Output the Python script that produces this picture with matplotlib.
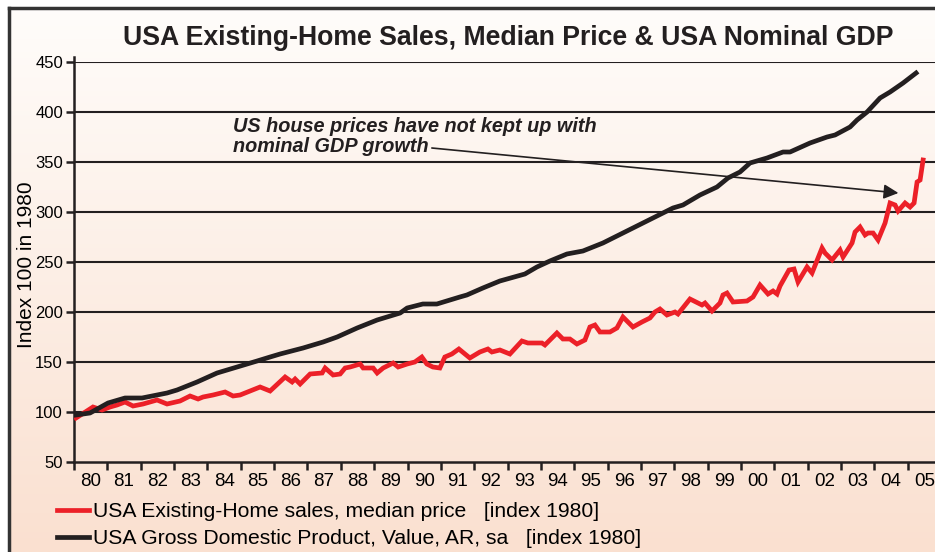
import numpy as np
import matplotlib
matplotlib.use("Agg")
import matplotlib.pyplot as plt
from matplotlib.lines import Line2D

# ---------------- data ----------------
gdp_t = [1980.06, 1980.48, 1981.02, 1981.53, 1982.04, 1982.79, 1983.09, 1983.69,
         1984.29, 1984.89, 1985.49, 1985.88, 1986.18, 1986.87, 1987.47, 1987.89,
         1988.49, 1989.09, 1989.78, 1989.99, 1990.46, 1990.88, 1991.57, 1991.78,
         1992.26, 1992.77, 1993.52, 1993.88, 1994.27, 1994.78, 1995.26, 1995.86,
         1996.28, 1996.76, 1997.30, 1997.96, 1998.26, 1998.77, 1999.28, 1999.61,
         1999.97, 2000.27, 2000.78, 2001.26, 2001.47, 2002.07, 2002.58, 2002.82,
         2003.27, 2003.48, 2003.78, 2004.17, 2004.47, 2004.86, 2005.25]
gdp_v = [97, 99, 109, 114, 114, 119, 122, 130,
         139, 145, 151, 155, 158, 164, 170, 175,
         184, 192, 199, 204, 208, 208, 215, 217,
         224, 231, 238, 245, 251, 258, 261, 269,
         276, 284, 293, 304, 307, 317, 325, 334,
         340, 349, 354, 360, 360, 369, 375, 377,
         385, 392, 400, 414, 420, 429, 439]

price_t = [1980.06, 1980.57, 1980.84, 1981.08, 1981.29, 1981.53, 1981.77, 1982.07,
           1982.49, 1982.79, 1983.18, 1983.48, 1983.72, 1983.87, 1984.17, 1984.53,
           1984.77, 1984.98, 1985.28, 1985.58, 1985.88, 1986.33, 1986.54, 1986.63,
           1986.78, 1987.08, 1987.44, 1987.53, 1987.77, 1987.98, 1988.13, 1988.28,
           1988.58, 1988.67, 1988.97, 1989.09, 1989.27, 1989.57, 1989.72, 1989.99,
           1990.22, 1990.43, 1990.58, 1990.76, 1990.97, 1991.12, 1991.33, 1991.54,
           1991.87, 1992.17, 1992.41, 1992.53, 1992.77, 1993.07, 1993.43, 1993.61,
           1994.03, 1994.12, 1994.48, 1994.66, 1994.87, 1995.08, 1995.32, 1995.47,
           1995.62, 1995.77, 1996.07, 1996.28, 1996.46, 1996.61, 1996.76, 1997.03,
           1997.27, 1997.42, 1997.57, 1997.78, 1998.02, 1998.11, 1998.47, 1998.83,
           1998.92, 1999.13, 1999.37, 1999.46, 1999.58, 1999.76, 2000.18, 2000.36,
           2000.57, 2000.81, 2000.96, 2001.08, 2001.17, 2001.44, 2001.59, 2001.71,
           2001.98, 2002.13, 2002.43, 2002.52, 2002.73, 2002.97, 2003.06, 2003.33,
           2003.42, 2003.57, 2003.72, 2003.81, 2003.96, 2004.11, 2004.32, 2004.47,
           2004.62, 2004.71, 2004.92, 2005.07, 2005.19, 2005.28, 2005.37, 2005.46]
price_v = [94, 105, 102, 105, 107, 110, 106, 108,
           112, 108, 111, 116, 113, 115, 117, 120,
           116, 117, 121, 125, 121, 135, 130, 133,
           128, 138, 139, 144, 137, 138, 144, 145,
           148, 144, 144, 139, 144, 149, 145, 148,
           150, 155, 148, 145, 144, 155, 158, 163,
           154, 160, 163, 160, 162, 158, 171, 169,
           169, 167, 179, 173, 173, 168, 172, 185,
           187, 180, 180, 184, 195, 190, 185, 190,
           194, 200, 203, 197, 200, 198, 213, 207,
           209, 201, 209, 217, 219, 210, 211, 215,
           227, 218, 221, 218, 226, 242, 243, 230,
           245, 239, 264, 259, 252, 262, 255, 269,
           280, 285, 277, 279, 279, 272, 289, 309,
           307, 301, 309, 305, 309, 330, 332, 352]

years = list(range(1980, 2006))
year_labels = ["80", "81", "82", "83", "84", "85", "86", "87", "88", "89", "90",
               "91", "92", "93", "94", "95", "96", "97", "98", "99", "00", "01",
               "02", "03", "04", "05"]
y_ticks = [50, 100, 150, 200, 250, 300, 350, 400, 450]

title = "USA Existing-Home Sales, Median Price & USA Nominal GDP"
label_price = "USA Existing-Home sales, median price   [index 1980]"
label_gdp = "USA Gross Domestic Product, Value, AR, sa   [index 1980]"
note = "US house prices have not kept up with\nnominal GDP growth"

RED = "#EC2028"
BLACK = "#231F20"
FONT = ["Liberation Sans", "DejaVu Sans"]
plt.rcParams["font.family"] = FONT

W, H = 935, 552
fig = plt.figure(figsize=(W / 100, H / 100), dpi=100)

# background gradient
bg = fig.add_axes([0, 0, 1, 1], zorder=-10)
top = np.array([255, 253, 251]) / 255
bot = np.array([250, 224, 208]) / 255
t = np.linspace(0, 1, 256)[:, None]
grad = (top[None, :] * (1 - t) + bot[None, :] * t)[:, None, :]
bg.imshow(grad, aspect="auto", extent=[0, 1, 0, 1])
bg.set_xlim(0, 1)
bg.set_ylim(0, 1)
bg.axis("off")
bg.fill_between([0, 1], 1 - 7 / H, 1, color="white", zorder=2)
bg.fill_between([0, 8 / W], 0, 1, color="white", zorder=2)
fig.add_artist(Line2D([8.5 / W, 8.5 / W], [0, 1 - 7.5 / H], color="#333333", lw=2.5))
fig.add_artist(Line2D([8.5 / W, 1], [1 - 7.5 / H, 1 - 7.5 / H], color="#333333", lw=2.5))

x0, x1 = 74, 935
yt, yb = 62, 462
ax = fig.add_axes([x0 / W, 1 - yb / H, (x1 - x0) / W, (yb - yt) / H])
ax.set_facecolor("none")
xmax = 1980 + (x1 - x0) / 33.35
ax.set_xlim(1980, xmax)
ax.set_ylim(50, 450)

for v in y_ticks[1:]:
    ax.axhline(v, color=BLACK, lw=1.5, zorder=1)

ax.plot(price_t, price_v, color=RED, lw=3.4, solid_joinstyle="miter", zorder=3)
ax.plot(gdp_t, gdp_v, color=BLACK, lw=3.4, zorder=3)

for s in ["top", "right"]:
    ax.spines[s].set_visible(False)
for s in ["left", "bottom"]:
    ax.spines[s].set_color(BLACK)
    ax.spines[s].set_linewidth(1.8)
ax.spines["left"].set_bounds(50, 455)

ax.set_yticks(y_ticks)
ax.set_yticklabels([str(v) for v in y_ticks], fontsize=12)
ax.tick_params(axis="y", length=6, width=1.8, color=BLACK, pad=2)
ax.set_xticks(years)
ax.set_xticklabels([])
ax.tick_params(axis="x", which="major", length=6, width=1.8, color=BLACK)
ax.set_xticks([y + 0.5 for y in years], minor=True)
ax.set_xticklabels(year_labels, minor=True, fontsize=13.5)
ax.tick_params(axis="x", which="minor", length=0, pad=8)

ax.set_ylabel("Index 100 in 1980", fontsize=15)
ax.yaxis.set_label_coords((36 - x0) / (x1 - x0), (yb - 265) / (yb - yt))

ax.text(1984.77, 395, note, fontsize=14.3, fontweight="bold", style="italic",
        ha="left", va="top", linespacing=1.05, color=BLACK, zorder=5)
ax.annotate("", xy=(2004.72, 319), xytext=(1990.73, 364),
            arrowprops=dict(arrowstyle="-|>", color=BLACK, lw=1.2,
                            mutation_scale=22, shrinkA=0, shrinkB=0), zorder=5)

fig.text(508 / W, 1 - 38 / H, title, fontsize=19.2, fontweight="bold",
         ha="center", va="center", color=BLACK)

handles = [Line2D([], [], color=RED, lw=3.4), Line2D([], [], color=BLACK, lw=3.4)]
fig.legend(handles, [label_price, label_gdp], loc="upper left",
           bbox_to_anchor=(57 / W, 1 - 502 / H), frameon=False, fontsize=15.2,
           handlelength=1.5, handletextpad=0.2, labelspacing=0.38,
           borderaxespad=0, borderpad=0)

fig.savefig("out.png", dpi=100)
